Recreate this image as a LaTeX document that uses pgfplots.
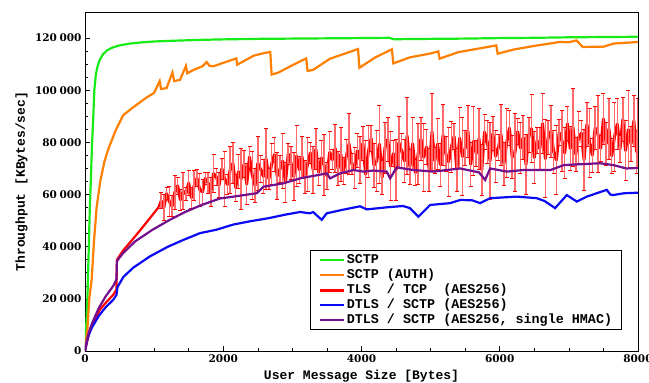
\documentclass[border=0pt]{standalone}
\usepackage{fontspec}
\setmainfont{DejaVu Serif}
\setmonofont{Liberation Mono}
\usepackage{pgfplots}
\pgfplotsset{compat=1.18}
\usepackage{pgfplotstable}
\definecolor{cgreen}{RGB}{25,235,25}
\definecolor{corange}{RGB}{255,128,0}
\definecolor{cred}{RGB}{255,0,0}
\definecolor{cblue}{RGB}{10,10,245}
\definecolor{cpurple}{RGB}{115,15,140}
\definecolor{cerr}{RGB}{255,105,105}

\pgfplotstableread{
x y
0 0
15 8000
35 20000
45 30000
60 45000
70 55000
80 62000
100 78000
120 90000
135 100000
155 105500
175 108500
210 111500
260 113800
320 115300
400 116400
500 117200
650 117900
800 118300
1000 118700
1300 119000
1650 119300
2000 119500
2500 119700
3000 119800
3500 119900
4000 120000
4400 120100
4480 119500
4600 119600
5000 119700
5500 119800
6000 120000
6500 120100
7000 120300
7500 120400
8000 120500
}\greentab

\pgfplotstableread{
x y
0 0
15 4000
34 8200
62 20000
96 27300
130 42000
168 55000
220 65000
280 72500
338 77500
450 85000
555 90500
700 93500
890 97200
1000 99000
1080 103500
1100 100500
1180 100800
1265 106800
1290 103500
1375 104000
1460 109300
1480 106500
1570 107800
1700 109200
1760 110800
1800 109400
1860 109200
2000 110500
2190 112200
2200 109800
2300 111200
2436 113200
2550 114000
2680 114700
2700 106000
2800 106800
3000 109600
3200 112200
3220 107400
3300 107800
3545 112100
3700 113500
3950 115800
3970 108600
4200 112600
4440 115700
4460 110300
4700 112600
5000 114100
5110 114900
5130 112100
5400 114600
5700 116000
5950 117200
5970 114000
6200 115600
6500 117000
6870 118500
7000 118400
7110 119100
7200 116600
7500 116700
7650 117900
8000 118500
}\orangetab

\pgfplotstableread{
x y
0 0
30 3500
72 8200
150 12500
217 15900
300 18500
410 21600
455 23500
462 35000
550 38500
724 43900
850 48000
965 51800
1060 55000
1100 57700
}\redearly

\pgfplotstableread{
x y e
1100 57700 3200
1140 55050 4800
1180 60400 2400
1220 57350 5600
1260 55500 4000
1300 60850 6400
1340 63400 3200
1380 57950 4000
1420 61300 7200
1460 60250 2400
1500 64400 4800
1540 58760 4000
1580 63520 5600
1620 66280 3200
1660 61840 6400
1700 61000 4800
1740 66160 2400
1780 64520 4000
1820 60880 5600
1860 68040 7200
1900 66800 3200
1940 63560 4800
1980 69920 4000
2020 66000 10400
2060 63800 3900
2100 69400 9100
2140 72000 7800
2180 62600 5200
2220 68800 6500
2260 66000 11700
2300 71600 5200
2340 64000 7800
2380 74400 3900
2420 67400 9100
2460 63400 6500
2500 72000 10400
2540 69760 5200
2580 66920 6500
2620 73680 11700
2660 66040 3900
2700 71600 7800
2740 75360 6500
2780 67120 9100
2820 69680 5200
2860 72840 10400
2900 64600 7800
2940 75560 3900
2980 72120 6500
3020 66860 9100
3060 74780 11700
3100 69500 5200
3140 74420 7800
3180 66740 6500
3220 71660 10400
3260 75980 3900
3300 69500 9100
3340 77420 7800
3380 68540 5200
3420 74060 6500
3460 71180 11700
3500 67100 5200
3540 76220 7800
3580 73340 3900
3620 77660 9100
3660 69980 6500
3700 75500 10400
3740 69020 5200
3780 74540 6500
3820 79460 11700
3860 71780 3900
3900 70100 7800
3940 76820 6500
3980 73340 9100
4020 79640 6600
4060 67720 13200
4100 76600 9900
4140 81480 5000
4180 71160 8300
4220 72840 11600
4260 79320 14900
4300 66600 6600
4340 77880 9900
4380 81160 8300
4420 70840 13200
4460 75720 5000
4500 69400 11600
4540 79880 9900
4580 76760 6600
4620 72840 8300
4660 82520 14900
4700 70600 6600
4740 79480 9900
4780 68360 5000
4820 75640 11600
4860 81320 8300
4900 74200 13200
4940 78280 6600
4980 69560 8300
5020 84040 14900
5060 72920 5000
5100 79400 9900
5140 71480 8300
5180 82760 11600
5220 75640 6600
5260 72520 13200
5300 78200 9900
5340 82280 5000
5380 69560 8300
5420 81640 11600
5460 74520 14900
5500 77800 6600
5540 84280 9900
5580 71560 8300
5620 80440 13200
5660 75720 5000
5700 81400 11600
5740 69480 9900
5780 83960 6600
5820 80040 8300
5860 72920 14900
5900 83400 6600
5940 74680 9900
5980 77960 5000
6020 82840 11600
6060 71720 8300
6100 79800 13200
6140 85480 6600
6180 74360 8300
6220 76040 14900
6260 84120 5000
6300 77800 9900
6340 81880 8300
6380 71560 11600
6420 82840 6600
6460 85320 13200
6500 74200 9900
6540 80680 5000
6580 77560 8300
6620 87240 11600
6660 73720 14900
6700 81800 6600
6740 84280 9900
6780 76360 8300
6820 73240 13200
6860 83720 5000
6900 80600 11600
6940 75880 9900
6980 87160 6600
7020 77640 8300
7060 85720 14900
7100 75400 6600
7140 81880 9900
7180 83560 5000
7220 73240 11600
7260 86920 8300
7300 79800 13200
7340 75080 6600
7380 85560 8300
7420 83240 14900
7460 77720 5000
7500 89000 9900
7540 79480 8300
7580 85160 11600
7620 74840 6600
7660 82120 13200
7700 87000 9900
7740 77480 5000
7780 88760 8300
7820 76840 11600
7860 84920 14900
7900 79400 6600
7940 88280 9900
7980 76360 8300
8000 83600 13200
}\redtab

\pgfplotstableread{
x y
0 0
30 4000
60 6500
100 9000
200 13500
300 16800
410 19700
455 21500
470 24500
555 28400
700 32000
941 36300
1200 40000
1423 42600
1664 45200
1900 46500
2147 48500
2400 49800
2629 50800
2900 52300
3111 53300
3256 52800
3300 53300
3424 50300
3497 52800
3700 54000
3979 55500
4076 54300
4366 55100
4600 55600
4700 54800
4824 51500
4993 56000
5282 56700
5427 57900
5600 57800
5716 56700
5861 58600
6247 59200
6536 58600
6650 57500
6801 54800
6970 59800
7115 57300
7259 59200
7548 61800
7600 60000
7641 59800
7800 60500
8000 60700
}\bluetab

\pgfplotstableread{
x y
0 0
30 4500
60 7500
100 10500
200 16500
300 21000
410 25000
455 27500
462 34500
550 37500
724 42000
965 46300
1206 50000
1447 53300
1688 56000
1954 58500
2147 59200
2485 60500
2581 63000
2870 64300
3111 66200
3497 68100
3545 66200
3690 68100
3883 69400
4027 68800
4172 69200
4366 68800
4414 66200
4510 70400
4751 69400
5041 68800
5427 70000
5700 68500
5789 65600
5861 70000
6102 68800
6343 69400
6734 69400
6927 71300
7453 72000
7641 71300
7834 70000
8000 70200
}\purpletab

\begin{document}
\begin{tikzpicture}
\useasboundingbox (-85pt,-32pt) rectangle (564pt,351pt);
\begin{axis}[
  at={(0pt,0pt)}, anchor=south west,
  width=553pt, height=339pt, scale only axis,
  xmin=0, xmax=8000, ymin=0, ymax=130000,
  scaled ticks=false,
  xtick={0,2000,4000,6000,8000},
  xticklabels={0,2000,4000,6000,8000},
  ytick={0,20000,40000,60000,80000,100000,120000},
  yticklabels={0,20\hspace{2.5pt}000,40\hspace{2.5pt}000,60\hspace{2.5pt}000,80\hspace{2.5pt}000,100\hspace{2.5pt}000,120\hspace{2.5pt}000},
  minor tick num=3,
  tick align=inside, tick pos=left,
  major tick length=5pt, minor tick length=3pt,
  tick style={black, line width=0.6pt},
  axis line style={line width=0.8pt},
  tick label style={font=\bfseries\fontsize{10.5}{12}\selectfont},
  xlabel={User Message Size [Bytes]},
  ylabel={Throughput [KBytes/sec]},
  label style={font=\ttfamily\bfseries\fontsize{13}{15}\selectfont},
  xlabel style={at={(axis description cs:0.5,-0.0855)}, anchor=base},
  ylabel style={at={(axis description cs:-0.1085,0.5)}, anchor=base},
  legend cell align=left,
  legend image code/.code={\draw[#1] (0pt,0pt) -- (24pt,0pt);},
  legend style={at={(0.971,0.062)}, anchor=south east, draw=black, line width=0.6pt,
    font=\ttfamily\bfseries\fontsize{13.4}{15}\selectfont,
    row sep=0pt, inner xsep=8pt, inner ysep=2pt,
    nodes={inner sep=1.5pt, text height=9pt, text depth=3pt}},
]
\addplot[cgreen, line width=2.2pt] table[x=x,y=y]{\greentab};
\addlegendentry{SCTP}
\addplot[corange, line width=2.2pt] table[x=x,y=y]{\orangetab};
\addlegendentry{SCTP (AUTH)}
\addplot[cred, line width=2.2pt, forget plot] table[x=x,y=y]{\redearly};
\addplot[cred, line width=3pt, line join=round,
  error bars/.cd, y dir=both, y explicit,
  error bar style={color=cerr, line width=1.5pt},
  error mark options={rotate=90, color=cred, line width=0.9pt, mark size=2pt}]
  table[x=x,y=y,y error=e]{\redtab};
\addlegendentry{TLS\hphantom{x} / TCP\hphantom{x} (AES256)}
\addplot[cblue, line width=2.2pt] table[x=x,y=y]{\bluetab};
\addlegendentry{DTLS / SCTP (AES256)}
\addplot[cpurple, line width=2.2pt] table[x=x,y=y]{\purpletab};
\addlegendentry{DTLS / SCTP (AES256, single HMAC)}
\end{axis}
\end{tikzpicture}
\end{document}
